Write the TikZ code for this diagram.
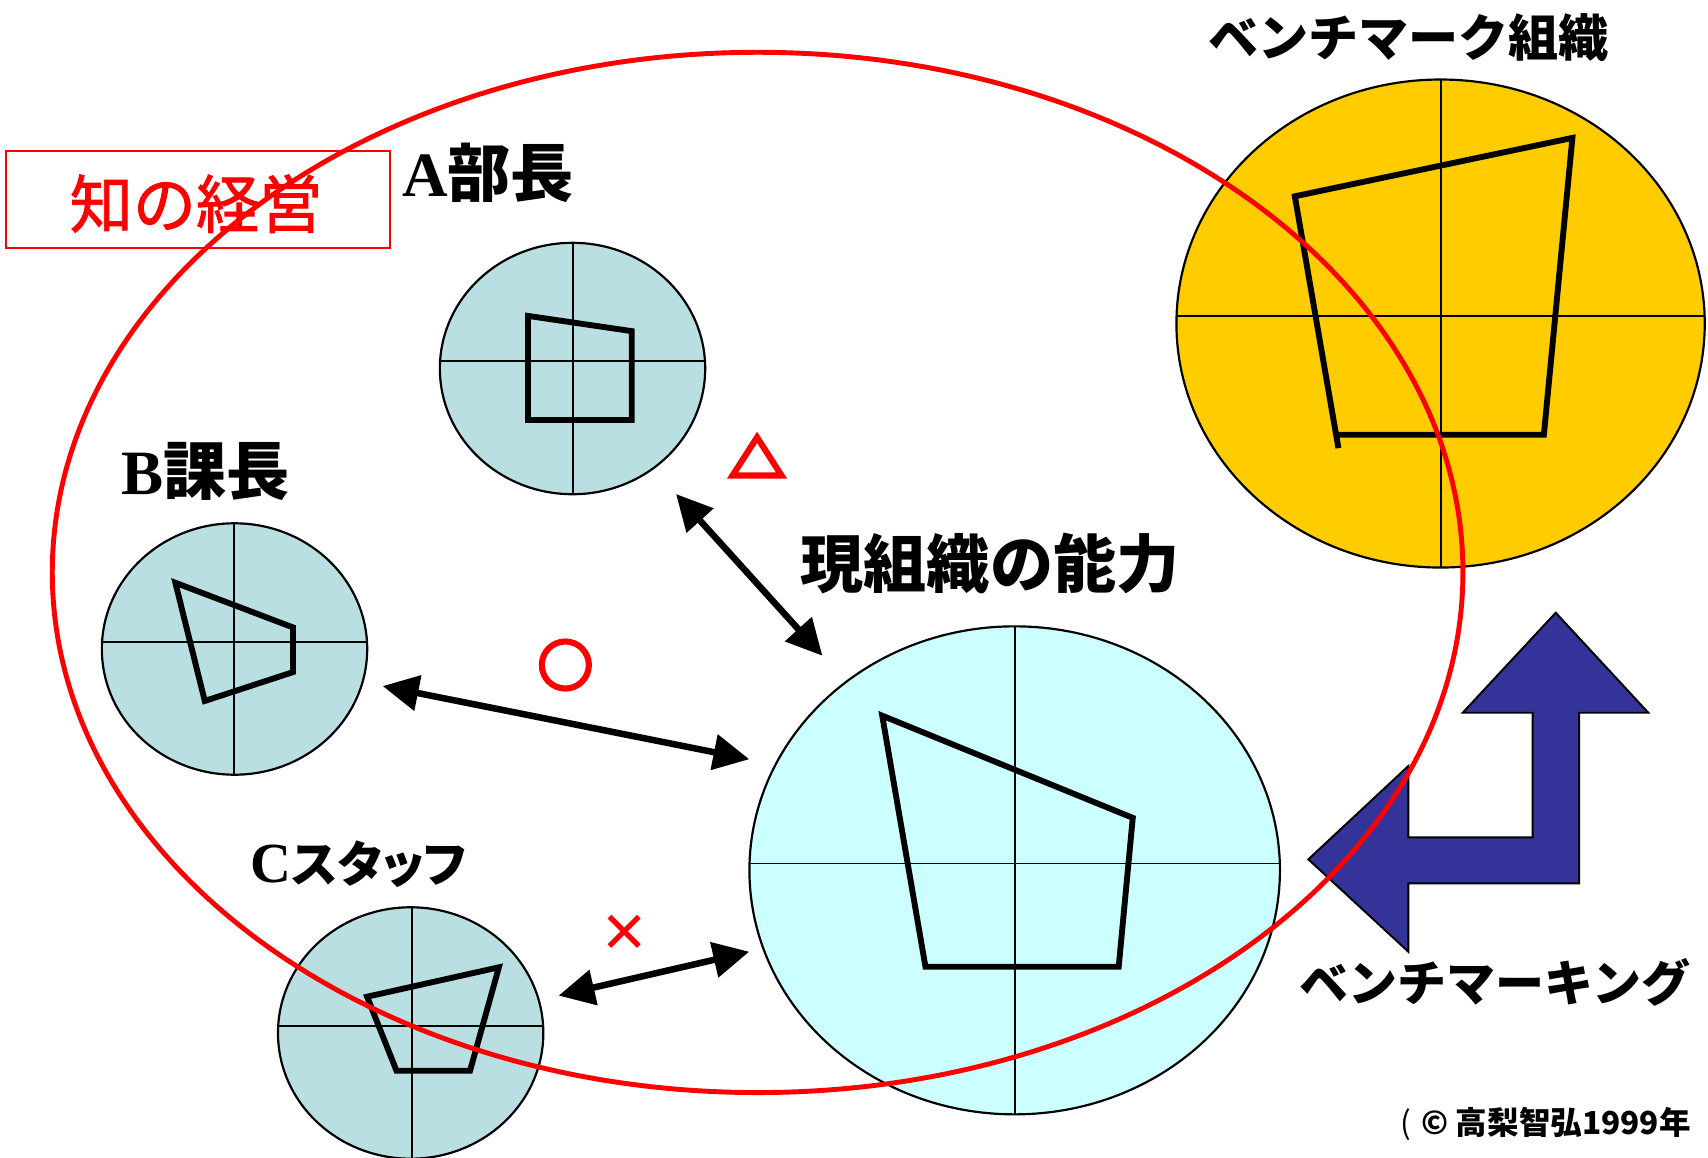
\documentclass[tikz,border=0pt]{standalone}
\usepackage{fontspec}
\usetikzlibrary{arrows.meta,shapes.geometric}
\newfontfamily\jp{Noto Sans CJK JP}
\newfontfamily\jpp[RawFeature=+palt]{Noto Sans CJK JP}
\newfontfamily\jpfat[FakeBold=1.4]{Noto Sans CJK JP}
\newfontfamily\tms{Liberation Serif}
\definecolor{panelblue}{HTML}{B9DFE3}
\definecolor{bigcyan}{HTML}{CCFFFF}
\definecolor{benchgold}{HTML}{FFCC00}
\definecolor{arrowblue}{HTML}{333399}
\tikzset{
  rim/.style={draw=black, line width=2pt},
  crossline/.style={draw=black, line width=1.8pt},
  quadline/.style={draw=black, line width=5.4pt, line join=miter},
  link/.style={line width=6pt, {Triangle[length=33pt,width=32pt]}-{Triangle[length=33pt,width=32pt]}},
  redsym/.style={draw=red, line width=5.6pt},
  lbl/.style={inner sep=0pt, outer sep=0pt, text=black},
}
% #1 name, #2 cx, #3 cy, #4 rx, #5 ry, #6 horizontal line y, #7 vertical line x, #8 fill
\newcommand\orgpanel[8]{%
  \fill[#8] (#2,#3) ellipse [x radius=#4, y radius=#5];
  \node[ellipse, minimum width=#4*2pt, minimum height=#5*2pt, inner sep=0pt, outer sep=0pt] (#1) at (#2,#3) {};
  \begin{scope}
    \clip (#2,#3) ellipse [x radius=#4, y radius=#5];
    \draw[crossline] (#2-#4,#6) -- (#2+#4,#6);
    \draw[crossline] (#7,#3-#5) -- (#7,#3+#5);
  \end{scope}
  \draw[rim] (#2,#3) ellipse [x radius=#4, y radius=#5];
}
\begin{document}
\begin{tikzpicture}[x=1pt,y=-1pt]
\useasboundingbox (0,0) rectangle (1568,1063);
\fill[white] (0,0) rectangle (1568,1063);

% panels
\orgpanel{pA}{525.6}{338.3}{121.8}{115.4}{331.1}{526}{panelblue}
\orgpanel{pB}{215.3}{595.8}{121.8}{115.4}{589.4}{214.8}{panelblue}
\orgpanel{pC}{377}{948.3}{121.8}{115.4}{942}{378}{panelblue}
\orgpanel{pNow}{931.5}{799}{243.5}{224}{792.7}{931.8}{bigcyan}
\orgpanel{pBench}{1322.5}{297}{242.5}{224}{289.8}{1323}{benchgold}

% capability shapes
\draw[quadline] (484.7,290) -- (580,304) -- (580,385.6) -- (484.7,385.6) -- cycle;
\draw[quadline] (161,535) -- (269,576) -- (269,617) -- (188,643.5) -- cycle;
\draw[quadline] (337,915) -- (458,888) -- (431.5,983) -- (364,983) -- cycle;
\draw[quadline] (809.9,657) -- (1039.9,750.8) -- (1027,887.5) -- (849.6,887.5) -- cycle;
\draw[quadline] (1228.7,411.4) -- (1188.7,180.2) -- (1443.5,126.6) -- (1417.3,399.1) -- (1228.7,399.1);

% comparison arrows
\coordinate (a1) at (620.6,453.5); \coordinate (a2) at (755,602);
\coordinate (b1) at (351.3,629.8); \coordinate (b2) at (687.9,697);
\coordinate (c1) at (512.8,914);   \coordinate (c2) at (687.8,873.7);
\draw[link] (a1) -- (a2);
\draw[link] (b1) -- (b2);
\draw[link] (c1) -- (c2);

% evaluation marks
\draw[redsym, line join=miter] (695,401.5) -- (717.5,436.5) -- (672.5,436.5) -- cycle;
\draw[redsym] (519,610.5) circle [radius=21.6];
\draw[redsym, line width=4.8pt] (559.5,841.5) -- (586.5,868.5) (559.5,868.5) -- (586.5,841.5);

% benchmarking arrow
\draw[fill=arrowblue, draw=black, line width=1.8pt, line join=miter]
  (1428.2,562.5) -- (1513.2,654.3) -- (1449.6,654.3) -- (1449.6,810.9) -- (1292.9,810.9)
  -- (1292.9,873.7) -- (1201.1,788.9) -- (1292.9,703.2) -- (1292.9,768.7) -- (1407,768.7)
  -- (1407,654.3) -- (1342.8,654.3) -- cycle;

% title box
\node[draw=red, line width=1.6pt, minimum width=352.5pt, minimum height=89.7pt, inner sep=0pt] (tbox) at (181.75,183.15) {};

% knowledge management zone
\draw[red, line width=4.5pt] (695.5,525.5) ellipse [x radius=647.5, y radius=477.5];

% labels
\node[lbl, text=red] (ttl) at (180,187) {\fontsize{58}{60}\selectfont\jpfat 知の経営};
\node[lbl] (lA) at (448,158.5) {\fontsize{58}{60}\selectfont\bfseries{\tms A}{\jp 部長}};
\node[lbl] (lB) at (188.5,433) {\fontsize{58}{60}\selectfont\bfseries{\tms B}{\jp 課長}};
\node[lbl] (lC) at (329.5,793) {\bfseries{\fontsize{52}{56}\selectfont\tms C}{\fontsize{45}{50}\selectfont\jpp スタッフ}};
\node[lbl] (lBO) at (1293,35) {\fontsize{46}{50}\selectfont\bfseries\jp ベンチマーク組織};
\node[lbl] (lNow) at (909,517) {\fontsize{58}{60}\selectfont\bfseries\jp 現組織の能力};
\node[lbl] (lBM) at (1372.5,901.5) {\fontsize{45}{50}\selectfont\bfseries\jp ベンチマーキング};
\node[lbl] (lCp) at (1419,1031.5) {\fontsize{29}{32}\selectfont\jp (\hspace{9pt}\bfseries ©\hspace{7pt}高梨智弘1999年};
\end{tikzpicture}
\end{document}
